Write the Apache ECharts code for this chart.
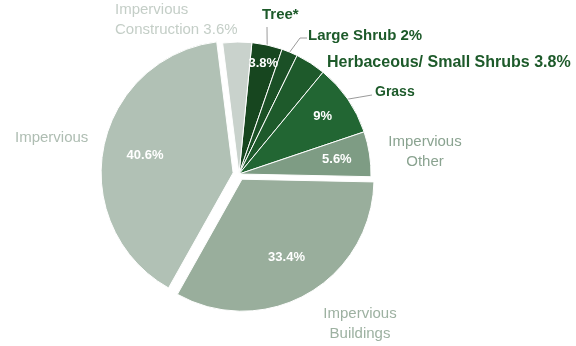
<!DOCTYPE html>
<html>
<head>
<meta charset="utf-8">
<script src="https://cdn.jsdelivr.net/npm/echarts@6/dist/echarts.min.js"></script>
<style>
  html, body { margin: 0; padding: 0; background: #ffffff; }
  #chart { width: 576px; height: 346px; }
</style>
</head>
<body>
<div id="chart"></div>
<script>
// Land cover shares (percent of area)
const categories = ['Tree*', 'Large Shrub', 'Herbaceous/ Small Shrubs', 'Grass',
                    'Impervious Other', 'Impervious Buildings', 'Impervious', 'Impervious Construction'];
const shares = [3.8, 2, 3.8, 9, 5.6, 33.4, 40.6, 3.6];
// Text written beside each slice; {p} becomes the slice's share
const outerLabels = ['Tree*', 'Large Shrub {p}', 'Herbaceous/ Small Shrubs {p}', 'Grass',
                     'Impervious\nOther', 'Impervious\nBuildings', 'Impervious', 'Impervious\nConstruction {p}'];
// Slices that print their share inside the wedge
const showInside = [true, false, false, true, true, true, true, false];

// ---- styling ----
const FONT = '"Liberation Sans", Arial, sans-serif';
const sliceColors = ['#17461f', '#1b5026', '#1e5a2b', '#226633', '#7e9c84', '#99ae9c', '#b1c1b5', '#c9d2cc'];
const outerColors = ['#1d5a2a', '#1d5a2a', '#1d5a2a', '#1d5a2a', '#8aa390', '#9db1a1', '#aebdb2', '#c4cec7'];
const outerSizes = [15, 15, 16, 14, 15, 15, 15, 15];
const explodeBy = [0, 0, 0, 0, 0, 6, 6, 0];          // px a slice is pulled out
const insideDepth = [0.86, 0, 0, 0.77, 0.75, 0.68, 0.68, 0]; // share label distance / radius
const CX = 239, CY = 174, R = 132, START = 84.4;

// where the outer labels sit, and the leader lines that reach them
const outerSpots = [
  { x: 262, y: 15, align: 'left' },
  { x: 308, y: 36, align: 'left' },
  { x: 327, y: 63, align: 'left' },
  { x: 375, y: 92, align: 'left' },
  { x: 425, y: 152, align: 'center' },
  { x: 360, y: 324, align: 'center' },
  { x: 15, y: 138, align: 'left' },
  { x: 115, y: 20, align: 'left' }
];
const leaders = [[[267, 27]], [[300, 38], [307, 38]], null, [[372, 95]], null, null, null, null];

const total = shares.reduce((a, b) => a + b, 0);
const startCW = 90 - START;                 // degrees clockwise from 12 o'clock
const mids = [];
let acc = 0;
shares.forEach(v => { mids.push(startCW + (acc + v / 2) / total * 360); acc += v; });
const rad = d => d * Math.PI / 180;
const polar = (c, r, deg) => [c[0] + r * Math.sin(rad(deg)), c[1] - r * Math.cos(rad(deg))];
const pct = v => v + '%';

const base = {
  type: 'pie', radius: R, startAngle: START, clockwise: true,
  silent: true, avoidLabelOverlap: false, animation: false,
  emphasis: { disabled: true }
};

// one layer per slice so each can be pulled out on its own
const sliceSeries = categories.map((name, i) => {
  const c = polar([CX, CY], explodeBy[i], mids[i]);
  return Object.assign({}, base, {
    center: c,
    data: categories.map((n, j) => ({
      name: n,
      value: shares[j],
      itemStyle: j === i
        ? { color: sliceColors[j], borderColor: '#ffffff', borderWidth: 1 }
        : { color: 'rgba(0,0,0,0)', borderWidth: 0 },
      label: { show: j === i && showInside[j] }
    })),
    label: {
      position: 'inside', color: '#ffffff', fontWeight: 'bold', fontSize: 13,
      fontFamily: FONT, formatter: p => pct(p.value)
    },
    labelLine: { show: false },
    labelLayout: p => {
      const xy = polar(c, insideDepth[p.dataIndex] * R, mids[p.dataIndex]);
      return { x: xy[0], y: xy[1], align: 'center', verticalAlign: 'middle' };
    }
  });
});

// names around the pie
const outerSeries = Object.assign({}, base, {
  center: [CX, CY],
  data: categories.map((n, j) => ({
    name: n,
    value: shares[j],
    itemStyle: { color: 'rgba(0,0,0,0)', borderWidth: 0 },
    label: { color: outerColors[j], fontWeight: j < 4 ? 'bold' : 'normal', fontSize: outerSizes[j] },
    labelLine: { show: leaders[j] != null }
  })),
  label: {
    position: 'outside', lineHeight: 20, fontFamily: FONT,
    formatter: p => outerLabels[p.dataIndex].replace('{p}', pct(p.value))
  },
  labelLine: { length: 8, length2: 8, lineStyle: { color: '#9b9b9b', width: 1 } },
  labelLayout: p => {
    const i = p.dataIndex;
    const s = outerSpots[i];
    const out = { x: s.x, y: s.y, align: s.align, verticalAlign: 'middle' };
    if (leaders[i]) {
      const p0 = polar([CX, CY], R, mids[i]);
      const rest = leaders[i];
      const pts = rest.length === 1
        ? [p0, [(p0[0] + rest[0][0]) / 2, (p0[1] + rest[0][1]) / 2], rest[0]]
        : [p0, rest[0], rest[1]];
      out.labelLinePoints = pts;
    }
    return out;
  }
});

const chart = echarts.init(document.getElementById('chart'), null, { renderer: 'canvas' });
chart.setOption({
  backgroundColor: '#ffffff',
  animation: false,
  series: sliceSeries.concat([outerSeries])
});
</script>
</body>
</html>
